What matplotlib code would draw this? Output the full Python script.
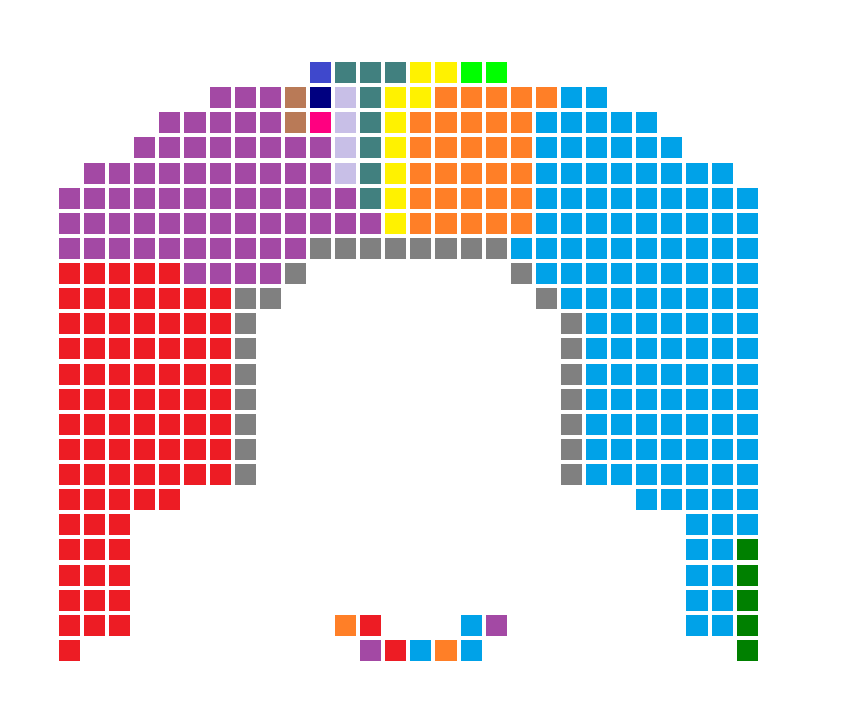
import matplotlib
matplotlib.use("Agg")
import matplotlib.pyplot as plt
from matplotlib.patches import Rectangle

# party code -> colour
party_colors = {
    "P": "#A349A4",  # purple
    "R": "#ED1C24",  # red
    "G": "#808080",  # grey
    "S": "#00A2E8",  # sky blue
    "O": "#FF7F27",  # orange
    "Y": "#FFF200",  # yellow
    "T": "#41807F",  # teal
    "V": "#C8BFE7",  # lavender
    "W": "#B97A57",  # brown
    "N": "#000080",  # navy
    "K": "#FF0080",  # pink
    "I": "#3F48CC",  # indigo
    "L": "#00FF00",  # lime
    "D": "#008000",  # dark green
}

# seat grid, one string per row, one char per column ('.' = empty)
seat_rows = [
    "..........ITTTYYLL..........",
    "......PPPWNVTYYOOOOOSS......",
    "....PPPPPWKVTYOOOOOSSSSS....",
    "...PPPPPPPPVTYOOOOOSSSSSS...",
    ".PPPPPPPPPPVTYOOOOOSSSSSSSS.",
    "PPPPPPPPPPPPTYOOOOOSSSSSSSSS",
    "PPPPPPPPPPPPPYOOOOOSSSSSSSSS",
    "PPPPPPPPPPGGGGGGGGSSSSSSSSSS",
    "RRRRRPPPPG........GSSSSSSSSS",
    "RRRRRRRGG..........GSSSSSSSS",
    "RRRRRRRG............GSSSSSSS",
    "RRRRRRRG............GSSSSSSS",
    "RRRRRRRG............GSSSSSSS",
    "RRRRRRRG............GSSSSSSS",
    "RRRRRRRG............GSSSSSSS",
    "RRRRRRRG............GSSSSSSS",
    "RRRRRRRG............GSSSSSSS",
    "RRRRR..................SSSSS",
    "RRR......................SSS",
    "RRR......................SSD",
    "RRR......................SSD",
    "RRR......................SSD",
    "RRR........OR...SP.......SSD",
    "R...........PRSOS..........D",
]

W, H = 863, 716
step_x, step_y = 25.1, 25.13
x0, y0 = 69.5, 72.5
cell = 0.837

fig = plt.figure(figsize=(W / 100, H / 100), dpi=100)
ax = fig.add_axes([0, 0, 1, 1])
ax.set_xlim(-x0 / step_x, (W - x0) / step_x)
ax.set_ylim((H - y0) / step_y, -y0 / step_y)
ax.axis("off")

for r, row in enumerate(seat_rows):
    for c, code in enumerate(row):
        if code == ".":
            continue
        ax.add_patch(Rectangle((c - cell / 2, r - cell / 2), cell, cell,
                               facecolor=party_colors[code], edgecolor="none"))

fig.savefig("out.png", dpi=100, facecolor="white")
plt.close(fig)
